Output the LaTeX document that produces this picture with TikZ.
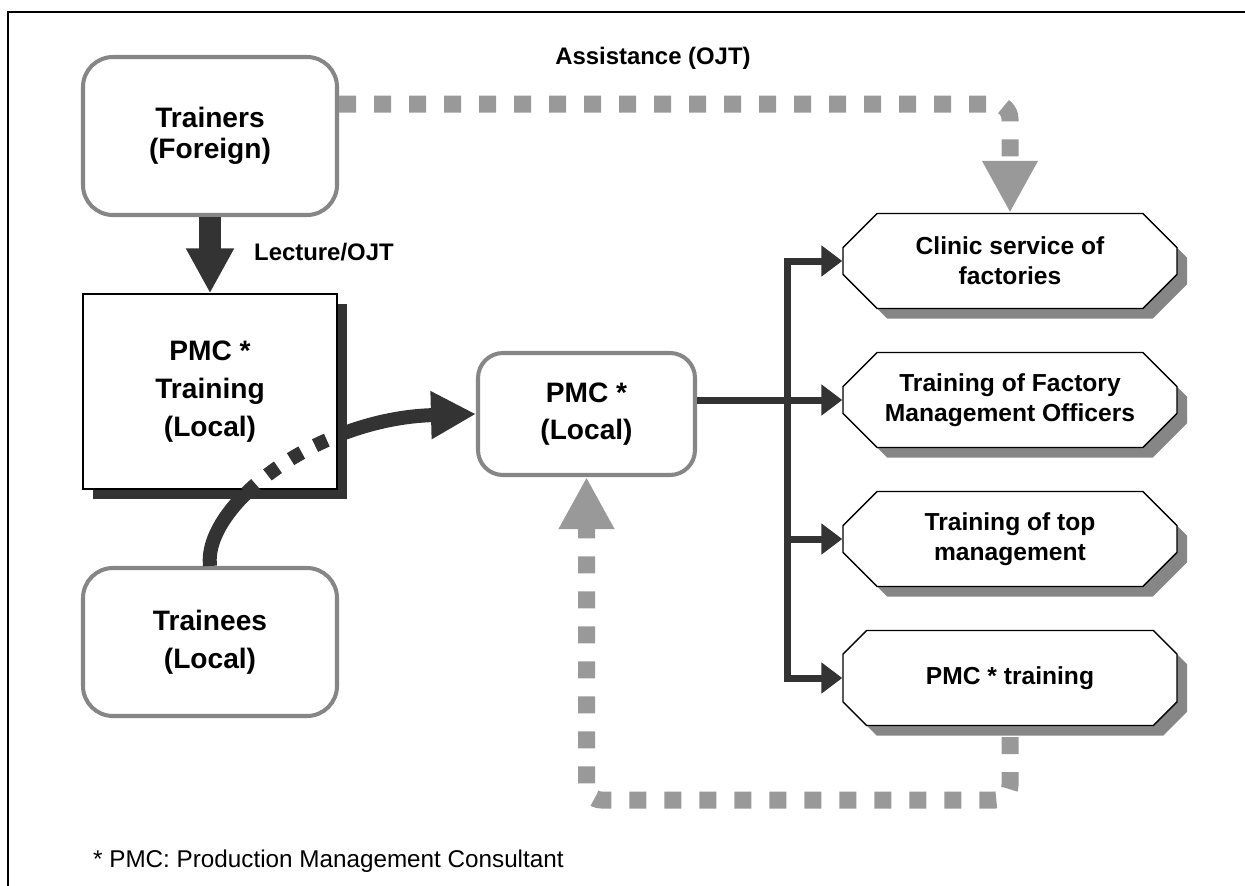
\documentclass[tikz,border=0pt]{standalone}
\usepackage{fontspec}
\setmainfont{Liberation Sans}
\usetikzlibrary{arrows.meta,positioning,shapes.misc,shadows,calc}

\definecolor{boxgray}{RGB}{134,134,134}
\definecolor{dotgray}{RGB}{153,153,153}
\definecolor{darkline}{RGB}{51,51,51}
\tikzset{
  rbox/.style={rectangle, rounded corners=0.6cm, draw=boxgray, line width=2.3pt, fill=white,
               minimum width=5.08cm, align=center, font=\fontsize{16}{21.4}\selectfont\bfseries},
  sqbox/.style={rectangle, draw=black, line width=0.8pt, fill=white,
               minimum width=5.08cm, minimum height=3.9cm, align=center,
               font=\fontsize{16}{21.4}\selectfont\bfseries,
               drop shadow={shadow xshift=0.2cm, shadow yshift=-0.2cm, fill=darkline, opacity=1}},
  oct/.style={chamfered rectangle, chamfered rectangle xsep=0.56cm, draw=black, line width=0.8pt,
              fill=white, minimum width=6.68cm, minimum height=1.9cm, align=center,
              font=\fontsize{14}{17}\selectfont\bfseries,
              drop shadow={shadow xshift=0.2cm, shadow yshift=-0.2cm, fill=boxgray, opacity=1}},
  fatar/.style={-{Triangle[length=0.9cm,width=0.9cm]}, line width=0.44cm, draw=darkline},
  curvar/.style={-{Triangle[length=0.9cm,width=0.9cm]}, line width=0.28cm, draw=darkline},
  curvdot/.style={curvar, dash pattern=on 0.26cm off 0.3cm},
  thinar/.style={-{Triangle[length=0.42cm,width=0.6cm]}, line width=0.14cm, draw=darkline},
  dotar/.style={-{Triangle[length=1.04cm,width=1.04cm]}, line width=0.34cm, draw=dotgray,
                dash pattern=on 0.34cm off 0.36cm, rounded corners=0.3cm},
  lbl/.style={font=\fontsize{13.6}{16}\selectfont\bfseries},
  note/.style={font=\fontsize{13.8}{16}\selectfont},
}

\begin{document}
\begin{tikzpicture}
\useasboundingbox (0,0) rectangle (24.9,-17.72);
\draw[line width=1pt] (0.16,-0.24) rectangle (25.6,-18.4);

%% left column and the local consultant
\node[rbox, minimum height=3.16cm, font=\fontsize{16}{17.8}\selectfont\bfseries] (trn) at (4.2,-2.72) {Trainers\\(Foreign)};
\node[rbox, minimum height=2.96cm] (tne) at (4.2,-12.84) {Trainees\\(Local)};
\node[rbox, minimum width=4.34cm, minimum height=2.44cm, rounded corners=0.5cm] (pmcl) at (11.73,-8.28) {PMC *\\(Local)};

%% trainees go through the training box (hidden part dotted)
\draw[curvar] (tne.north) .. controls (4.06,-10.1) and (6.36,-8.36) .. (pmcl.west);
\node[sqbox] (ptrain) at (4.2,-7.83) {PMC *\\Training\\(Local)};
\begin{scope}
  \clip (ptrain.south west) rectangle (ptrain.north east);
  \draw[curvdot] (tne.north) .. controls (4.06,-10.1) and (6.36,-8.36) .. (pmcl.west);
\end{scope}

\draw[fatar] (trn.south) -- (ptrain.north);
\node[lbl, anchor=west] (lecture) at (4.96,-5.04) {Lecture/OJT};

%% services of the local consultant
\node[oct] (clinic) at (20.2,-5.22) {Clinic service of\\factories};
\node[oct] (fmo)    at (20.2,-8.0)  {Training of Factory\\Management Officers};
\node[oct] (topm)   at (20.2,-10.78) {Training of top\\management};
\node[oct] (otrain) at (20.2,-13.56) {PMC * training};

\coordinate (fork) at (15.74,-8.0);
\draw[thinar] (pmcl.east |- fmo.west) -- (fmo.west);
\draw[thinar] (fork |- otrain.west) -- (fork |- clinic.west) -- (clinic.west);
\draw[thinar] (fork |- clinic.west) -- (fork |- otrain.west) -- (otrain.west);
\draw[thinar] (fork |- topm.west) -- (topm.west);

%% assistance and feedback loops
\draw[dotar] ([yshift=0.64cm]trn.east) -| (clinic.north);
\node[lbl] (assist) at (13.06,-1.16) {Assistance (OJT)};

\coordinate (loop) at (11.73,-16.0);
\draw[dotar, shorten <=0.22cm] (otrain.south) |- (loop) -- (pmcl.south);

\node[note, anchor=west] (fn) at (1.74,-17.22) {* PMC: Production Management Consultant};
\end{tikzpicture}
\end{document}
